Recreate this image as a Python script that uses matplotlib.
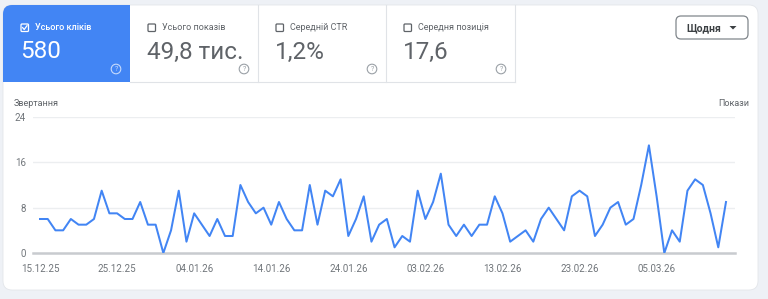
import pandas as pd
import matplotlib.pyplot as plt
from matplotlib.patches import FancyBboxPatch, Rectangle, Circle, Polygon

plt.rcParams['font.family'] = ['Roboto', 'DejaVu Sans']

# кліки по днях, 15.12.25 - 14.03.26
clicks = [6, 6, 4, 4, 6, 5, 5, 6, 11, 7, 7, 6, 6, 9, 5, 5,
          0, 4, 11, 2, 7, 5, 3, 6, 3, 3, 12, 9, 7, 8, 5, 9,
          6, 4, 4, 12, 5, 11, 10, 13, 3, 6, 10, 2, 5, 6, 1, 3,
          2, 11, 6, 9, 14, 5, 3, 5, 3, 5, 5, 10, 7, 2, 3, 4,
          2, 6, 8, 6, 4, 10, 11, 10, 3, 5, 8, 9, 5, 6, 12, 19,
          10, 0, 4, 2, 11, 13, 12, 7, 1, 9]
start_date = '2025-12-15'
tick_labels = ['15.12.25', '25.12.25', '04.01.26', '14.01.26', '24.01.26',
               '03.02.26', '13.02.26', '23.02.26', '05.03.26']
y_ticks = [0, 8, 16, 24]

tile_titles = ['Усього кліків', 'Усього показів', 'Середній CTR', 'Середня позиція']
tile_values = ['580', '49,8 тис.', '1,2%', '17,6']

W, H = 768, 299
fig = plt.figure(figsize=(W / 100, H / 100), dpi=100)
fig.patch.set_facecolor('#eef1f6')

# фон у пікселях
bg = fig.add_axes([0, 0, 1, 1])
bg.set_xlim(0, W)
bg.set_ylim(H, 0)
bg.axis('off')

bg.add_patch(FancyBboxPatch((3, 5), 755, 285, boxstyle='round,pad=0,rounding_size=9',
                            fc='white', ec='#e3e6ea', lw=0.6))

# плитки
tile_x = [3, 130, 258, 386]
tile_w = [127, 128, 128, 129]
blue = '#4285f4'
grey = '#5f6368'
bg.add_patch(FancyBboxPatch((3, 5), 127, 77, boxstyle='round,pad=0,rounding_size=9',
                            fc=blue, ec='none'))
bg.add_patch(Rectangle((30, 5), 100, 77, fc=blue, ec='none'))
bg.add_patch(Rectangle((3, 40), 127, 42, fc=blue, ec='none'))
for x in [258, 386, 515]:
    bg.plot([x, x], [5, 82], color='#e0e3e7', lw=0.8)
bg.plot([130, 515], [82, 82], color='#e0e3e7', lw=0.8)

for i in range(4):
    x0 = tile_x[i] + 18
    on = i == 0
    col = 'white' if on else grey
    bg.add_patch(FancyBboxPatch((x0, 24), 7.5, 7.5, boxstyle='round,pad=0,rounding_size=1',
                                fc='none', ec=col, lw=0.9))
    if on:
        bg.plot([x0 + 1.6, x0 + 3.2, x0 + 6], [27.6, 29.5, 25.7], color='white', lw=0.9)
    bg.text(x0 + 14, 27.8, tile_titles[i], fontsize=6.5, color=col,
            fontweight='medium' if on else 'normal', va='center', ha='left')
    bg.text(x0 - 1, 52, tile_values[i], fontsize=17.5, color=col, va='center', ha='left')
    qx = tile_x[i] + tile_w[i] - 14
    bg.add_patch(Circle((qx, 69), 4.8, fc='none', ec='#c6dafc' if on else '#9aa0a6', lw=0.8))
    bg.text(qx, 69.3, '?', fontsize=5, color='#c6dafc' if on else '#9aa0a6',
            ha='center', va='center')

# кнопка
bg.add_patch(FancyBboxPatch((676, 16), 72, 23, boxstyle='round,pad=0,rounding_size=5',
                            fc='white', ec='#80868b', lw=0.9))
bg.text(704, 27.8, 'Щодня', fontsize=7.5, fontweight='bold', color='#3c4043',
        ha='center', va='center')
bg.add_patch(Polygon([[729.5, 26], [736.5, 26], [733, 29.5]], closed=True,
                     fc='#3c4043', ec='none'))

bg.text(14, 104, 'Звертання', fontsize=6.5, color=grey, ha='left', va='center')
bg.text(749, 104, 'Покази', fontsize=6.5, color=grey, ha='right', va='center')

# графік
dates = pd.date_range(start_date, periods=len(clicks), freq='D')
ax = fig.add_axes([33 / W, (H - 253) / H, 702 / W, 136 / H])
ax.patch.set_alpha(0)
ax.plot(dates, clicks, color=blue, lw=1.45, zorder=3)
ax.set_ylim(0, 24)
ax.set_xlim(dates[0] - pd.Timedelta(days=0.91), dates[-1] + pd.Timedelta(days=1.17))
ax.set_yticks(y_ticks)
ax.set_yticklabels([str(v) for v in y_ticks])
ax.set_xticks(pd.to_datetime(tick_labels, format='%d.%m.%y'))
ax.set_xticklabels(tick_labels)
ax.tick_params(axis='both', length=0, labelsize=7, labelcolor='#70757a')
ax.tick_params(axis='y', pad=5)
ax.tick_params(axis='x', pad=8)
for s in ax.spines.values():
    s.set_visible(False)
for v in y_ticks[1:]:
    ax.axhline(v, color='#eceef0', lw=1, zorder=1)
ax.axhline(0, color='#c8cbcf', lw=1.8, zorder=2, clip_on=False)

plt.savefig('out.png', dpi=100, facecolor=fig.get_facecolor())
